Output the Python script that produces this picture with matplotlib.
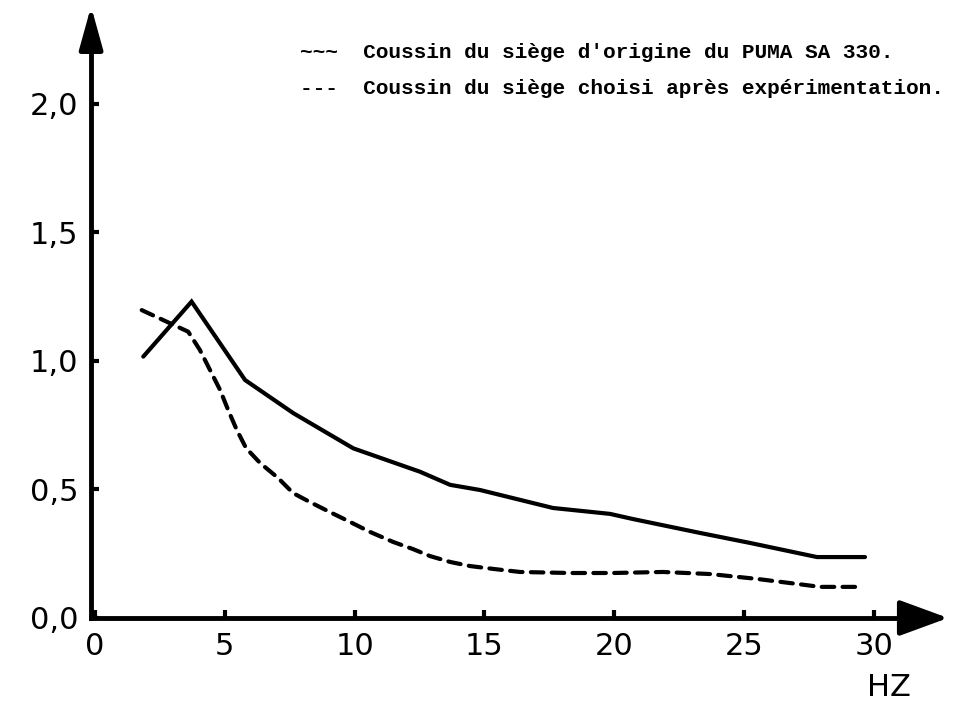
import matplotlib.pyplot as plt

# Datos
freq_origine = [1.86, 3.72, 5.78, 7.64, 9.95, 12.52, 13.68, 14.83, 17.64, 19.84,
                20.72, 23.3, 25.23, 27.81, 29.66]
val_origine = [1.017, 1.231, 0.926, 0.797, 0.660, 0.569, 0.518, 0.498, 0.428, 0.405,
               0.385, 0.331, 0.292, 0.237, 0.237]

freq_choisi = [1.80, 3.59, 4.04, 4.43, 4.82, 5.13, 5.46, 5.82, 6.36, 7.05, 7.63, 8.28,
               9.05, 9.82, 10.59, 11.48, 12.25, 12.90, 13.68, 14.45, 15.33, 16.37,
               18.30, 19.95, 21.88, 23.69, 25.50, 27.08, 27.93, 29.58]
val_choisi = [1.198, 1.114, 1.043, 0.965, 0.887, 0.809, 0.732, 0.661, 0.603, 0.545,
              0.486, 0.451, 0.412, 0.374, 0.335, 0.296, 0.268, 0.241, 0.218, 0.202,
              0.191, 0.179, 0.175, 0.175, 0.179, 0.171, 0.152, 0.132, 0.121, 0.121]

xticks = [0, 5, 10, 15, 20, 25, 30]
yticks = [0.0, 0.5, 1.0, 1.5, 2.0]
ylabels = ['0,0', '0,5', '1,0', '1,5', '2,0']

leg1 = "~~~  Coussin du siège d'origine du PUMA SA 330."
leg2 = "---  Coussin du siège choisi après expérimentation."

fig = plt.figure(figsize=(9.68, 7.02), dpi=100)
ax = fig.add_axes([0.0941, 0.1197, 0.8408, 0.8127])

ax.plot(freq_origine, val_origine, color='black', lw=3, solid_capstyle='round',
        solid_joinstyle='miter')
ax.plot(freq_choisi, val_choisi, color='black', lw=3, linestyle=(0, (3.0, 2.0)),
        dash_capstyle='round')

ax.set_xlim(-0.15, 31.2)
ax.set_ylim(0, 2.22)

# ejes con flechas
for s in ['top', 'right']:
    ax.spines[s].set_visible(False)
for s in ['left', 'bottom']:
    ax.spines[s].set_linewidth(3.5)
    ax.spines[s].set_capstyle('projecting')

ax.annotate('', xy=(32.86, 0), xytext=(31.1, 0), annotation_clip=False,
            arrowprops=dict(arrowstyle='-|>,head_length=1.5,head_width=0.55',
                            mutation_scale=20, lw=3.5, color='black',
                            shrinkA=0, shrinkB=0))
ax.annotate('', xy=(-0.15, 2.38), xytext=(-0.15, 2.21), annotation_clip=False,
            arrowprops=dict(arrowstyle='-|>,head_length=1.3,head_width=0.36',
                            mutation_scale=20, lw=3.5, color='black',
                            shrinkA=0, shrinkB=0))

ax.set_xticks(xticks)
ax.set_xticklabels([str(v) for v in xticks])
ax.set_yticks(yticks)
ax.set_yticklabels(ylabels)
ax.tick_params(direction='in', length=6, width=3, labelsize=22, colors='black')
ax.tick_params(axis='x', pad=10)
ax.tick_params(axis='y', pad=9)

ax.text(30.6, -0.272, 'HZ', fontsize=22, ha='center', va='center', clip_on=False)

fig.text(300 / 968, 1 - 52 / 702, leg1, family='Liberation Mono', weight='bold',
         fontsize=15.2, va='center', ha='left')
fig.text(300 / 968, 1 - 88 / 702, leg2, family='Liberation Mono', weight='bold',
         fontsize=15.2, va='center', ha='left')

fig.savefig('out.png', dpi=100)
